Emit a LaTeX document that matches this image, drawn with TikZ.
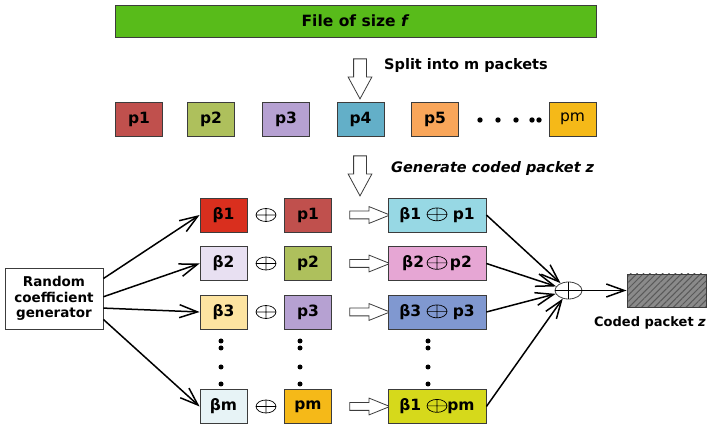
\documentclass[tikz,border=0pt]{standalone}
\usepackage{fontspec}
\setmainfont{DejaVu Sans}
\usetikzlibrary{arrows.meta,shapes.geometric,shapes.arrows,patterns.meta}

\definecolor{filegreen}{HTML}{58BB1A}
\definecolor{pone}{HTML}{C0504D}
\definecolor{ptwo}{HTML}{AEC05C}
\definecolor{pthree}{HTML}{B6A1D2}
\definecolor{pfour}{HTML}{63AFC8}
\definecolor{pfive}{HTML}{F9A65A}
\definecolor{pmcol}{HTML}{F5B918}
\definecolor{bone}{HTML}{D92F1E}
\definecolor{btwo}{HTML}{E8E0F2}
\definecolor{bthree}{HTML}{FDE4A1}
\definecolor{bmcol}{HTML}{E7F3F6}
\definecolor{cone}{HTML}{97D8E4}
\definecolor{ctwo}{HTML}{E6A6D4}
\definecolor{cthree}{HTML}{8098D0}
\definecolor{cmcol}{HTML}{D6D91B}
\definecolor{edgegray}{HTML}{3C3C3C}
\definecolor{hatchgray}{HTML}{8A8A8A}

\newcommand{\xo}{\tikz[baseline=-5pt]{\draw[line width=0.7pt, black] (0pt,0pt) ellipse [x radius=10pt, y radius=6.5pt] (-10pt,0pt) -- (10pt,0pt) (0pt,-6.5pt) -- (0pt,6.5pt);}}

\begin{document}
\begin{tikzpicture}[x=1pt, y=-1pt,
    box/.style={draw=edgegray, line width=0.8pt, minimum width=47pt, minimum height=34pt, inner sep=0pt, font=\fontsize{15.5}{15.5}\selectfont\bfseries},
    sumbox/.style={box, minimum width=98pt},
    conn/.style={line width=1.5pt, -{Straight Barb[length=18pt,width=13pt,line width=1.5pt]}},
    downarrow/.style={single arrow, draw=edgegray, fill=white, line width=0.8pt, minimum height=40pt, inner sep=6pt, single arrow head extend=5.5pt, single arrow tip angle=57, shape border rotate=270},
    rightarrow/.style={single arrow, draw=edgegray, fill=white, line width=0.8pt, minimum height=40pt, inner sep=3.5pt, single arrow head extend=4.5pt, single arrow tip angle=44},
    caption/.style={anchor=west, inner sep=0pt, font=\fontsize{14.5}{14.5}\selectfont\bfseries}]
                \useasboundingbox (0,0) rectangle (707,427);

                % file and split
                \node[box, fill=filegreen, minimum width=481pt, minimum height=32pt] (file) at (355.5,21) {File of size \textit{f}};
                \node[downarrow] (split) at (360,73) {};
                \node[caption] (splittxt) at (384,66) {Split into m packets};

                \node[box, fill=pone] (pk1) at (139,119) {p1};
                \node[box, fill=ptwo] (pk2) at (211,119) {p2};
                \node[box, fill=pthree] (pk3) at (286,119) {p3};
                \node[box, fill=pfour] (pk4) at (360.5,119) {p4};
                \node[box, fill=pfive] (pk5) at (435,119) {p5};
                \node[box, fill=pmcol, font=\fontsize{15.5}{15.5}\selectfont] (pkm) at (572.5,119) {pm};
                \fill (480,120) circle (2.7pt) (498,120) circle (2.7pt) (516,120) circle (2.7pt)
                      (532,120) circle (2.7pt) (539,120) circle (2.7pt);

                \node[downarrow] (gen) at (360,170) {};
                \node[caption] (gentxt) at (391,169) {\textit{Generate coded packet z}};

                % coefficients and packets
                \node[box, draw=edgegray, fill=white, minimum width=98pt, minimum height=61pt, align=center, font=\fontsize{13.5}{15.5}\selectfont\bfseries] (rcg) at (54,298.5) {Random\\coefficient\\generator};

                \node[box, fill=bone] (b1) at (223.5,215) {β1};
                \node[box, fill=btwo] (b2) at (223.5,263.5) {β2};
                \node[box, fill=bthree] (b3) at (223.5,312) {β3};
                \node[box, fill=bmcol] (bm) at (223.5,406.5) {βm};

                \node[inner sep=0pt] (x1) at (266,215) {\xo};
                \node[inner sep=0pt] (x2) at (266,263.5) {\xo};
                \node[inner sep=0pt] (x3) at (266,312) {\xo};
                \node[inner sep=0pt] (xm) at (266,406.5) {\xo};

                \node[box, fill=pone] (q1) at (308,215) {p1};
                \node[box, fill=ptwo] (q2) at (308,263.5) {p2};
                \node[box, fill=pthree] (q3) at (308,312) {p3};
                \node[box, fill=pmcol] (qm) at (308,406.5) {pm};

                \node[rightarrow] (r1) at (365,215) {};
                \node[rightarrow] (r2) at (365,263.5) {};
                \node[rightarrow] (r3) at (365,312) {};
                \node[rightarrow] (rm) at (365,406.5) {};

                \node[sumbox, fill=cone] (c1) at (437,215) {β1 \xo\ p1};
                \node[sumbox, fill=ctwo] (c2) at (437,263.5) {β2\,\xo\,p2};
                \node[sumbox, fill=cthree] (c3) at (437,312) {β3 \xo\ p3};
                \node[sumbox, fill=cmcol] (cm) at (437,406.5) {β1 \xo pm};

                \fill (221,341) circle (2.5pt) (221,348) circle (2.5pt) (221,367) circle (2.5pt) (221,384) circle (2.5pt);
                \fill (300,341) circle (2.5pt) (300,348) circle (2.5pt) (300,367) circle (2.5pt) (300,384) circle (2.5pt);
                \fill (428,341) circle (2.5pt) (428,348) circle (2.5pt) (428,367) circle (2.5pt) (428,384) circle (2.5pt);

                % combining
                \node[ellipse, draw=edgegray, line width=0.8pt, fill=white, minimum width=27pt, minimum height=17pt, inner sep=0pt] (xr) at (568.5,290.5) {};
                \draw[line width=0.8pt] (xr.north) -- (xr.south) (xr.west) -- (xr.east);
                \node[draw=edgegray, line width=0.8pt, minimum width=79pt, minimum height=33pt, preaction={fill=hatchgray}, pattern={Lines[angle=45,distance=4.5pt,line width=1pt]}, pattern color=black!65] (coded) at (666.5,290.5) {};
                \node[font=\fontsize{13}{13}\selectfont\bfseries] (codedtxt) at (650,323) {Coded packet \textit{z}};

                \draw[conn] (rcg.22) -- (b1.west);
                \draw[conn] (rcg.2) -- (b2.west);
                \draw[conn] (rcg.-11) -- (b3.west);
                \draw[conn] (rcg.-23) -- (bm.west);

                \draw[conn] (c1.east) -- (xr);
                \draw[conn] (c2.east) -- (xr);
                \draw[conn] (c3.east) -- (xr);
                \draw[conn] (cm.east) -- (xr);
                \draw[conn] (xr) -- (coded);
            \end{tikzpicture}
\end{document}
